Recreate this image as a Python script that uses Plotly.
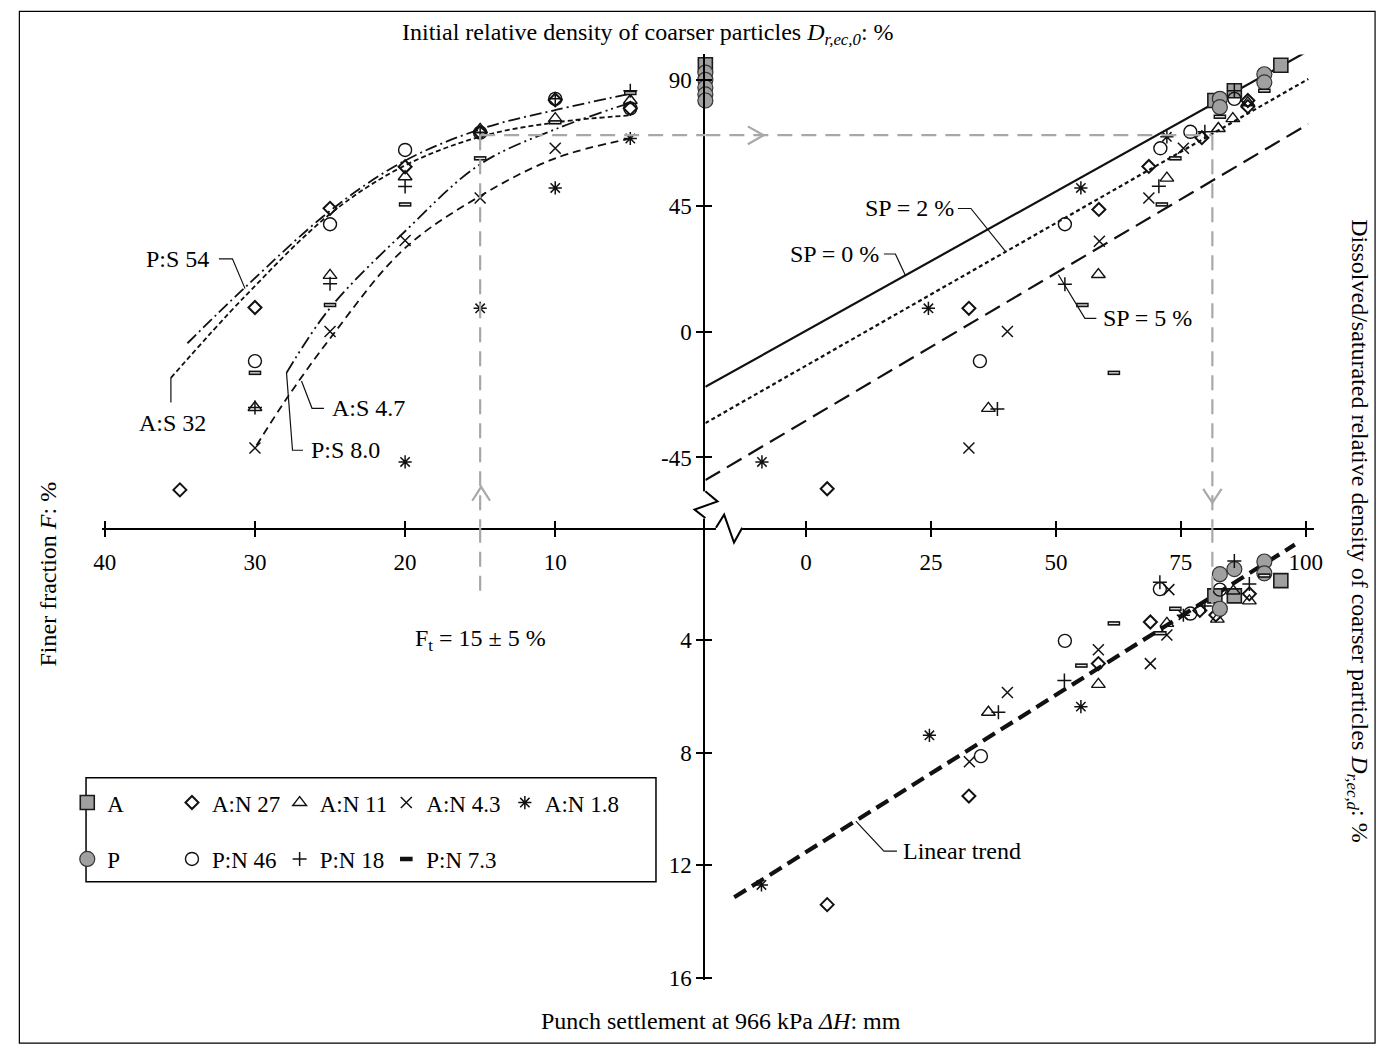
import plotly.graph_objects as go

W, H = 1390, 1060
SERIF = "Liberation Serif"

# ---------------- data ----------------
# Upper-left panel: finer fraction F (%) vs initial relative density Dr,ec,0 (%)
ul_A_F, ul_A_D0 = [0], [95.6]
ul_P_F, ul_P_D0 = [0, 0, 0, 0, 0], [92.8, 90.2, 87.5, 85.0, 82.8]
ul_AN27_F, ul_AN27_D0 = [35, 30, 25, 20, 15, 10, 5], [-56.6, 8.7, 44.2, 59.1, 71.3, 83.0, 80.0]
ul_AN11_F, ul_AN11_D0 = [30, 25, 20, 15, 10, 5], [-27.1, 20.2, 55.5, 72.5, 76.3, 82.8]
ul_AN43_F, ul_AN43_D0 = [30, 25, 20, 15, 10], [-41.6, 0.1, 32.7, 47.9, 65.7]
ul_AN18_F, ul_AN18_D0 = [20, 15, 10, 5], [-46.6, 8.4, 51.5, 69.2]
ul_PN46_F, ul_PN46_D0 = [30, 25, 20, 15, 10, 5], [-10.5, 38.5, 65.1, 71.3, 83.4, 80.0]
ul_PN18_F, ul_PN18_D0 = [30, 25, 20, 15, 10, 5], [-27.1, 17.2, 52.0, 71.3, 83.4, 86.3]
ul_PN73_F, ul_PN73_D0 = [30, 25, 20, 15, 10, 5], [-14.7, 9.6, 45.6, 62.1, 75.0, 85.5]

# Fitted curves in the upper-left panel
ps54_F, ps54_D0 = [34.5, 30.7, 24.9, 20.1, 14.9, 9.9, 5.0], [-4.1, 15.7, 43.7, 61.0, 72.7, 79.5, 85.2]
as32_F, as32_D0 = [35.6, 30.7, 24.9, 20.1, 14.9, 9.9, 5.0], [-16.5, 12.5, 42.6, 59.3, 70.0, 75.0, 77.5]
ps80_F, ps80_D0 = [27.9, 25.0, 20.0, 15.0, 10.0, 5.0], [-14.7, 8.5, 36.0, 60.0, 72.5, 82.0]
as47_F, as47_D0 = [29.9, 27.9, 24.9, 20.1, 15.0, 10.0, 5.0], [-40.7, -24.0, -1.7, 29.5, 48.6, 62.1, 69.2]

# Upper-right panel: Dr,ec,d (%) vs Dr,ec,0 (%)
ur_A_R, ur_A_D0 = [95.0, 85.7, 81.8], [95.4, 86.3, 82.8]
ur_P_R, ur_P_D0 = [91.7, 91.7, 82.8, 82.8], [92.2, 89.3, 83.4, 80.4]
ur_AN27_R, ur_AN27_D0 = [4.25, 32.6, 58.6, 68.6, 79.2, 88.4, 88.4], [-56.2, 8.4, 43.8, 59.2, 69.5, 82.8, 80.6]
ur_AN11_R, ur_AN11_D0 = [36.5, 58.5, 72.2, 82.5, 85.4, 88.4], [-27.4, 20.5, 55.0, 72.8, 76.3, 82.0]
ur_AN43_R, ur_AN43_D0 = [32.6, 40.3, 58.7, 68.6, 75.5], [-41.6, 0.1, 32.4, 47.9, 65.7]
ur_AN18_R, ur_AN18_D0 = [-8.8, 24.5, 55.0, 72.2], [-46.6, 8.4, 51.5, 69.8]
ur_PN46_R, ur_PN46_D0 = [34.8, 51.8, 70.9, 76.9, 85.7], [-10.5, 38.5, 65.7, 71.6, 83.4]
ur_PN18_R, ur_PN18_D0 = [38.3, 51.8, 70.6, 79.8, 85.7], [-27.6, 17.0, 52.1, 71.6, 86.3]
ur_PN73_R, ur_PN73_D0 = [55.3, 61.6, 71.2, 73.9, 82.8, 91.7], [9.6, -14.7, 45.6, 62.1, 77.0, 86.3]

# Specific-parameter reference lines
sp_R = [-20.12, 100.5]
sp0_D0 = [-19.7, 100.6]
sp2_D0 = [-32.7, 90.5]
sp5_D0 = [-53.1, 74.4]

# Lower-right panel: Dr,ec,d (%) vs punch settlement dH (mm)
lr_A_R, lr_A_dH = [81.8, 85.7, 95.0], [2.42, 2.42, 1.88]
lr_P_R, lr_P_dH = [82.8, 82.8, 85.7, 91.7, 91.7], [1.65, 2.88, 1.47, 1.2, 1.62]
lr_AN27_R, lr_AN27_dH = [4.25, 32.6, 58.5, 68.9, 78.8, 88.7, 82.0], [13.4, 9.54, 4.83, 3.35, 2.94, 2.35, 3.1]
lr_AN11_R, lr_AN11_dH = [36.5, 58.5, 72.2, 82.3, 85.5, 88.7], [6.56, 5.57, 3.40, 3.25, 2.25, 2.6]
lr_AN43_R, lr_AN43_dH = [32.7, 40.3, 58.5, 68.9, 72.6, 72.2], [8.32, 5.86, 4.34, 4.83, 2.2, 3.81]
lr_AN18_R, lr_AN18_dH = [-8.9, 24.7, 55.0, 75.5], [12.7, 7.38, 6.36, 3.11]
lr_PN46_R, lr_PN46_dH = [35.0, 51.8, 70.8, 76.9, 82.8], [8.12, 4.02, 2.18, 3.05, 2.2]
lr_PN18_R, lr_PN18_dH = [38.5, 51.7, 70.8, 79.8, 85.7, 88.7], [6.56, 5.43, 1.94, 2.78, 1.18, 2.0]
lr_PN73_R, lr_PN73_dH = [55.1, 61.6, 70.9, 73.9, 91.7], [4.9, 3.40, 3.75, 2.88, 1.7]

trend_R, trend_dH = [-14.35, 97.8], [13.14, 0.6]

# Threshold guide: Ft = 15 % -> Dr,ec,0 -> Dr,ec,d
Ft = 15
Ft_D0 = 70.4
Ft_R = 81.3

f_ticks = [40, 30, 20, 10]
r_ticks = [0, 25, 50, 75, 100]
d0_ticks = [90, 45, 0, -45]
d0_ticktext = ["90", "45", "0", "-45"]
dh_ticks = [4, 8, 12, 16]

# ---------------- styles ----------------
INK = "#111111"
STY = {
    "A": dict(symbol="square", size=14, color="#a0a0a0", line=dict(color="#1a1a1a", width=1.6)),
    "P": dict(symbol="circle", size=15, color="#a0a0a0", line=dict(color="#333333", width=1.2)),
    "A:N 27": dict(symbol="diamond-open", size=10, color=INK, line=dict(width=2)),
    "A:N 11": dict(symbol="triangle-up-open", size=12, color=INK, line=dict(width=1.4)),
    "A:N 4.3": dict(symbol="x-thin-open", size=11, color=INK, line=dict(width=1.5)),
    "A:N 1.8": dict(symbol="asterisk-open", size=11, color=INK, line=dict(width=1.5)),
    "P:N 46": dict(symbol="circle-open", size=13, color=INK, line=dict(width=1.4)),
    "P:N 18": dict(symbol="cross-thin-open", size=10, color=INK, line=dict(width=1.5)),
    "P:N 7.3": dict(symbol="line-ew-open", size=9, color=INK, line=dict(width=4.5)),
}
# light core drawn over the bar symbol so it reads as an outlined slab
SLAB_CORE = dict(symbol="line-ew-open", size=7, color="#e8e8e8", line=dict(width=1.3))

# one legend per entry: (legend id, symbol centre x, row centre y) in pixels
SERIES = [
    ("A", ("legend", 87, 803), (ul_A_F, ul_A_D0), (ur_A_R, ur_A_D0), (lr_A_R, lr_A_dH)),
    ("A:N 27", ("legend2", 193, 803), (ul_AN27_F, ul_AN27_D0), (ur_AN27_R, ur_AN27_D0), (lr_AN27_R, lr_AN27_dH)),
    ("A:N 11", ("legend3", 302, 803), (ul_AN11_F, ul_AN11_D0), (ur_AN11_R, ur_AN11_D0), (lr_AN11_R, lr_AN11_dH)),
    ("A:N 4.3", ("legend4", 410, 803), (ul_AN43_F, ul_AN43_D0), (ur_AN43_R, ur_AN43_D0), (lr_AN43_R, lr_AN43_dH)),
    ("A:N 1.8", ("legend5", 530, 803), (ul_AN18_F, ul_AN18_D0), (ur_AN18_R, ur_AN18_D0), (lr_AN18_R, lr_AN18_dH)),
    ("P", ("legend6", 87, 860), (ul_P_F, ul_P_D0), (ur_P_R, ur_P_D0), (lr_P_R, lr_P_dH)),
    ("P:N 46", ("legend7", 193, 860), (ul_PN46_F, ul_PN46_D0), (ur_PN46_R, ur_PN46_D0), (lr_PN46_R, lr_PN46_dH)),
    ("P:N 18", ("legend8", 302, 860), (ul_PN18_F, ul_PN18_D0), (ur_PN18_R, ur_PN18_D0), (lr_PN18_R, lr_PN18_dH)),
    ("P:N 7.3", ("legend9", 410, 860), (ul_PN73_F, ul_PN73_D0), (ur_PN73_R, ur_PN73_D0), (lr_PN73_R, lr_PN73_dH)),
]

fig = go.Figure()

# ---------------- curves and lines ----------------
def curve(x, y, xa, ya, dash, width=1.8, shape="spline"):
    fig.add_trace(go.Scatter(x=x, y=y, xaxis=xa, yaxis=ya, mode="lines",
                             line=dict(color=INK, width=width, dash=dash, shape=shape),
                             showlegend=False, hoverinfo="skip"))

curve(ps54_F, ps54_D0, "x", "y", "12px,4px,2px,4px")
curve(as32_F, as32_D0, "x", "y", "5px,3px")
curve(ps80_F, ps80_D0, "x", "y", "13px,4px,2px,4px,2px,4px")
curve(as47_F, as47_D0, "x", "y", "8px,5px")

curve(sp_R, sp0_D0, "x2", "y", "solid", 2.2, "linear")
curve(sp_R, sp2_D0, "x2", "y", "4px,3px", 2.2, "linear")
curve(sp_R, sp5_D0, "x2", "y", "17px,8px", 2.2, "linear")
curve(trend_R, trend_dH, "x2", "y2", "14px,7px", 4.2, "linear")

# ---------------- markers ----------------
for name, (leg, _, _), ul, ur, lr in SERIES:
    for i, ((xs, ys), xa, ya) in enumerate([(ul, "x", "y"), (ur, "x2", "y"), (lr, "x2", "y2")]):
        fig.add_trace(go.Scatter(
            x=xs, y=ys, xaxis=xa, yaxis=ya, mode="markers", name=name,
            legendgroup=name, legend=leg, showlegend=(i == 0),
            marker=STY[name], cliponaxis=False, hoverinfo="skip"))
        if name == "P:N 7.3":
            fig.add_trace(go.Scatter(
                x=xs, y=ys, xaxis=xa, yaxis=ya, mode="markers", showlegend=False,
                marker=SLAB_CORE, cliponaxis=False, hoverinfo="skip"))

# empty traces so the inner-tick overlay axes get drawn
for xa, ya in [("x3", "y"), ("x4", "y"), ("x2", "y3"), ("x2", "y4")]:
    fig.add_trace(go.Scatter(x=[], y=[], xaxis=xa, yaxis=ya, showlegend=False, hoverinfo="skip"))

# ---------------- axes ----------------
def px(x):
    return x / W

def py(y):
    return 1 - y / H

AX = dict(showline=True, linecolor="black", linewidth=2, ticks="outside", ticklen=7,
          tickwidth=2, tickcolor="black", showgrid=False, zeroline=False,
          tickfont=dict(family=SERIF, size=23, color="black"), tickmode="array")
INNER = dict(ticks="inside", ticklen=7, tickwidth=2, tickcolor="black", showline=False,
             showgrid=False, zeroline=False, showticklabels=False, tickmode="array")

XL = [40.2, 0]
XR = [-20.12, 101.6]
YT = [-70.16, 99.3]
YB = [16.07, 0]

fig.update_layout(
    xaxis=dict(AX, domain=[px(95), px(706)], range=XL, anchor="y", tickvals=f_ticks, ticklabelstandoff=6),
    xaxis2=dict(AX, domain=[px(706), px(1322)], range=XR, anchor="y", tickvals=r_ticks, ticklabelstandoff=6),
    yaxis=dict(AX, domain=[py(533.3), py(55)], range=YT, anchor="x2", side="left",
               tickvals=d0_ticks, ticktext=d0_ticktext),
    yaxis2=dict(AX, domain=[py(990), py(533.3)], range=YB, anchor="x2", side="left", tickvals=dh_ticks),
    xaxis3=dict(INNER, overlaying="x", range=XL, anchor="y", tickvals=f_ticks),
    xaxis4=dict(INNER, overlaying="x2", range=XR, anchor="y", tickvals=r_ticks),
    yaxis3=dict(INNER, overlaying="y", range=YT, anchor="x2", side="left", tickvals=d0_ticks),
    yaxis4=dict(INNER, overlaying="y2", range=YB, anchor="x2", side="left", tickvals=dh_ticks),
)

# ---------------- shapes ----------------
shapes = []
GRAY = "#a8a8a8"
gdash = dict(color=GRAY, width=2.2, dash="15px,9px")

# threshold guide lines
shapes += [
    dict(type="line", xref="x", yref="y", x0=Ft, x1=Ft, y0=Ft_D0, y1=YT[0], line=gdash),
    dict(type="line", xref="x", yref="y2", x0=Ft, x1=Ft, y0=0, y1=2.45, line=gdash),
    dict(type="line", xref="x", yref="y", x0=Ft, x1=0, y0=Ft_D0, y1=Ft_D0, line=gdash),
    dict(type="line", xref="x2", yref="y", x0=XR[0], x1=Ft_R, y0=Ft_D0, y1=Ft_D0, line=gdash),
    dict(type="line", xref="x2", yref="y", x0=Ft_R, x1=Ft_R, y0=Ft_D0, y1=YT[0], line=gdash),
    dict(type="line", xref="x2", yref="y2", x0=Ft_R, x1=Ft_R, y0=0, y1=2.7, line=gdash),
]

def pth(pts):
    return "M " + " L ".join(f"{px(x):.5f},{py(y):.5f}" for x, y in pts)

arrow_line = dict(color=GRAY, width=2.2)
shapes += [
    dict(type="path", xref="paper", yref="paper", path=pth([(470, 506), (479, 492), (488, 506)]), line=arrow_line),
    dict(type="path", xref="paper", yref="paper", path=pth([(749, 127.7), (765, 136.7), (749, 145.7)]), line=arrow_line),
    dict(type="path", xref="paper", yref="paper", path=pth([(1210, 494), (1219.3, 508), (1228.6, 494)]), line=arrow_line),
]

# axis breaks
shapes += [
    dict(type="rect", xref="paper", yref="paper", x0=px(700), x1=px(713), y0=py(524), y1=py(496.5),
         fillcolor="white", line=dict(width=0), layer="above"),
    dict(type="rect", xref="paper", yref="paper", x0=px(716.7), x1=px(743.3), y0=py(538), y1=py(529),
         fillcolor="white", line=dict(width=0), layer="above"),
    dict(type="path", xref="paper", yref="paper", layer="above",
         path=pth([(706, 496.5), (718.3, 506.7), (695, 515), (706, 523.5)]), line=dict(color="black", width=2)),
    dict(type="path", xref="paper", yref="paper", layer="above",
         path=pth([(716.7, 533.3), (725, 520), (735, 548.3), (743.3, 533.3)]), line=dict(color="black", width=2)),
]

# leader lines
lead = dict(color=INK, width=1.2)
def leader(xref, yref, pts):
    p = "M " + " L ".join(f"{x},{y}" for x, y in pts)
    shapes.append(dict(type="path", xref=xref, yref=yref, path=p, line=lead))

leader("x2", "y", [(15.59, 27.85), (17.89, 27.85), (19.86, 20.3)])
leader("x2", "y", [(30.4, 44.15), (33.0, 44.15), (40.0, 28.6)])
leader("x2", "y", [(58.1, 4.8), (55.8, 4.8), (50.5, 20.4)])
leader("x", "y", [(32.4, 26.1), (31.5, 26.1), (30.66, 15.45)])
leader("x", "y", [(35.6, -25.3), (35.6, -16.4)])
leader("x", "y", [(25.4, -27.4), (26.2, -27.4), (26.9, -17.6)])
leader("x", "y", [(26.8, -42.4), (27.5, -42.4), (27.9, -14.6)])
leader("x2", "y2", [(18.2, 11.5), (15.6, 11.5), (9.98, 10.43)])

# legend frame and outer figure frame
shapes.append(dict(type="rect", xref="paper", yref="paper", x0=px(79), x1=px(656), y0=py(891), y1=py(786),
                   line=dict(color="black", width=1.5)))
shapes.append(dict(type="rect", xref="paper", yref="paper", x0=px(11.5), x1=px(1384), y0=py(1054), y1=py(11.5),
                   line=dict(color="black", width=1.2)))

fig.update_layout(shapes=shapes)

# ---------------- annotations ----------------
TF = dict(family=SERIF, size=24, color="black")
ann = []
def label(text, x, y, xref, yref, xanchor="center", yanchor="middle", **kw):
    ann.append(dict(text=text, x=x, y=y, xref=xref, yref=yref, showarrow=False, font=TF,
                    xanchor=xanchor, yanchor=yanchor, **kw))

label("SP = 0 %", 15.0, 27.85, "x2", "y", xanchor="right")
label("SP = 2 %", 30.0, 44.15, "x2", "y", xanchor="right")
label("SP = 5 %", 59.0, 4.8, "x2", "y", xanchor="left")
label("P:S 54", 32.9, 26.1, "x", "y", xanchor="right")
label("A:S 32", 35.5, -32.6, "x", "y")
label("A:S 4.7", 25.0, -27.4, "x", "y", xanchor="left")
label("P:S 8.0", 26.4, -42.4, "x", "y", xanchor="left")
label("Linear trend", 19.0, 11.5, "x2", "y2", xanchor="left")
label("F<sub>t</sub> = 15 ± 5 %", Ft, 4.0, "x", "y2")

label("Initial relative density of coarser particles <i>D</i><sub><i>r,ec,0</i></sub>: %",
      px(648), py(34), "paper", "paper")
label("Punch settlement at 966 kPa <i>ΔH</i>: mm", px(722), py(1032), "paper", "paper")
label("Finer fraction <i>F</i>: %", px(40), py(580), "paper", "paper", textangle=-90)
label("Dissolved/saturated relative density of coarser particles <i>D</i><sub><i>r,ec,d</i></sub>: %",
      px(1366), py(537), "paper", "paper", textangle=90)

fig.update_layout(annotations=ann)

# ---------------- legends ----------------
LEG = dict(orientation="h", xanchor="left", yanchor="middle", bgcolor="rgba(0,0,0,0)",
           font=dict(family=SERIF, size=23, color="black"), itemwidth=30,
           itemclick=False, itemdoubleclick=False)
legends = {}
for name, (leg, sx, sy), *_ in SERIES:
    legends[leg] = dict(LEG, x=px(sx - 27), y=py(sy + 8))

fig.update_layout(
    width=W, height=H, margin=dict(l=0, r=0, t=0, b=0),
    paper_bgcolor="white", plot_bgcolor="rgba(0,0,0,0)",
    font=dict(family=SERIF, color="black"),
    **legends,
)

fig.write_html("out.html")
